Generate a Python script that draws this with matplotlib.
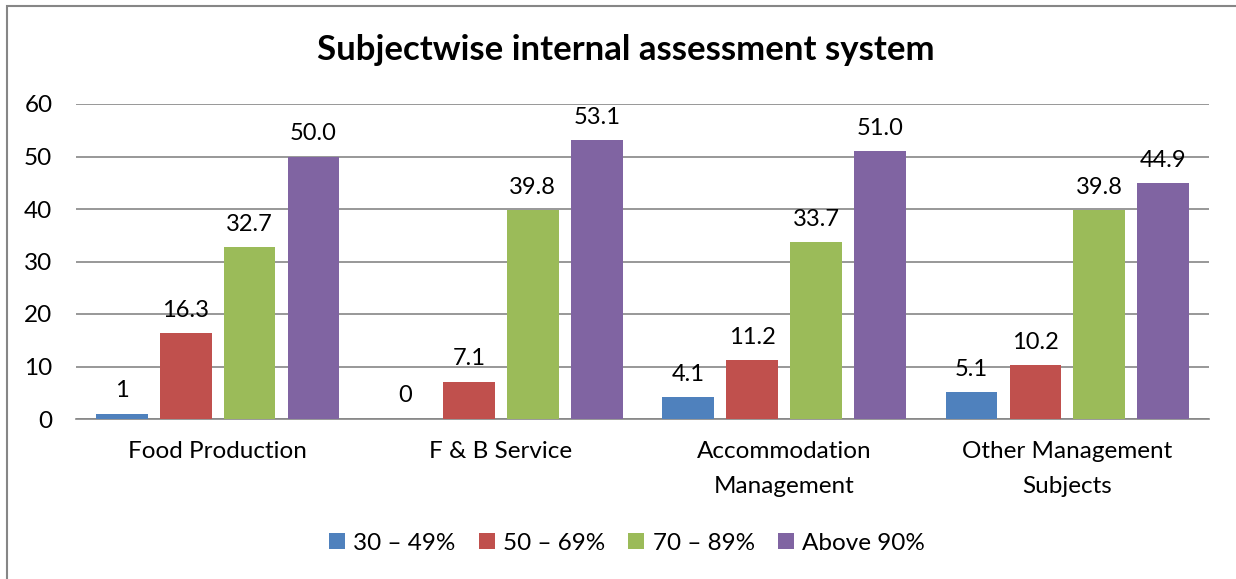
import numpy as np
import matplotlib.pyplot as plt
from matplotlib.patches import Rectangle

plt.rcParams.update({
    'font.family': ['Lato', 'DejaVu Sans'],
    'font.size': 17,
})

# Data
categories = ['Food Production', 'F & B Service', 'Accommodation\nManagement',
              'Other Management\nSubjects']
series = ['30 – 49%', '50 – 69%', '70 – 89%', 'Above 90%']
v_30_49 = [1, 0, 4.1, 5.1]
v_50_69 = [16.3, 7.1, 11.2, 10.2]
v_70_89 = [32.7, 39.8, 33.7, 39.8]
v_above90 = [50.0, 53.1, 51.0, 44.9]
labels_30_49 = ['1', '0', '4.1', '5.1']
labels_50_69 = ['16.3', '7.1', '11.2', '10.2']
labels_70_89 = ['32.7', '39.8', '33.7', '39.8']
labels_above90 = ['50.0', '53.1', '51.0', '44.9']

values = [v_30_49, v_50_69, v_70_89, v_above90]
labels = [labels_30_49, labels_50_69, labels_70_89, labels_above90]
colors = ['#4f81bd', '#c0504d', '#9bbb59', '#8064a2']

fig = plt.figure(figsize=(12.36, 5.79), dpi=100)
# outer chart frame (cut off at right and bottom)
fig.patches.append(Rectangle((7 / 1236, -0.1), 1.2, 573 / 579 + 0.1,
                             transform=fig.transFigure, fill=False,
                             edgecolor='#868686', linewidth=1.5))

ax = fig.add_axes([76 / 1236, 1 - 419 / 579, (1209 - 76) / 1236, (419 - 104) / 579])

x = np.arange(len(categories))
width = 0.183
step = 0.2256
for i, (vals, labs, c, name) in enumerate(zip(values, labels, colors, series)):
    pos = x - 1.5 * step + i * step
    bars = ax.bar(pos, vals, width, color=c, label=name, zorder=3)
    for b, lab in zip(bars, labs):
        ax.annotate(lab, (b.get_x() + b.get_width() / 2, b.get_height()),
                    xytext=(0, 9), textcoords='offset points',
                    ha='center', va='bottom', fontsize=17)

ax.set_xlim(-0.5, 3.5)
ax.set_ylim(0, 60)
ax.set_yticks(range(0, 61, 10))
ax.yaxis.grid(True, color='#868686', linewidth=1.2, zorder=0)
ax.set_axisbelow(True)
for s in ['top', 'right', 'left']:
    ax.spines[s].set_visible(False)
ax.spines['bottom'].set_color('#868686')
ax.spines['bottom'].set_linewidth(1.2)
ax.tick_params(axis='y', length=0, pad=17, labelsize=17.5)
ax.tick_params(axis='x', length=0, pad=16, labelsize=17.5)
ax.set_xticks(x)
ax.set_xticklabels(categories, linespacing=1.8)

fig.text(626 / 1236, 1 - 50 / 579, 'Subjectwise internal assessment system',
         ha='center', va='center', fontsize=25, fontweight='bold')

fig.legend(loc='center', bbox_to_anchor=(627 / 1236, 1 - 543 / 579), ncol=4,
           frameon=False, fontsize=17.5, handlelength=0.65, handleheight=0.65,
           handletextpad=0.35, columnspacing=0.95)

plt.savefig('out.png', dpi=100)
